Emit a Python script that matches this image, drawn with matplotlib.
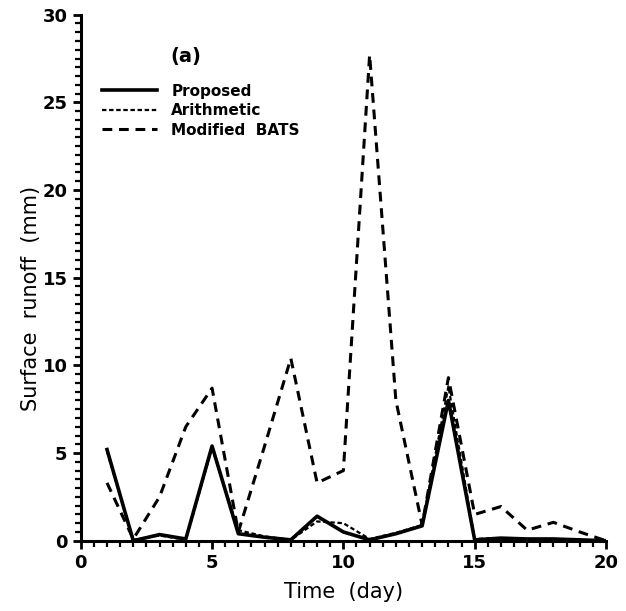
import matplotlib
matplotlib.use('Agg')
import matplotlib.pyplot as plt
from matplotlib.ticker import MultipleLocator

days = list(range(1, 21))
proposed = [5.2, 0.0, 0.35, 0.1, 5.4, 0.4, 0.2, 0.05, 1.4, 0.5,
            0.05, 0.4, 0.85, 8.0, 0.05, 0.15, 0.1, 0.1, 0.05, 0.0]
arithmetic = [5.1, 0.05, 0.3, 0.05, 5.3, 0.6, 0.25, 0.05, 1.1, 1.0,
              0.1, 0.45, 0.9, 8.8, 0.1, 0.15, 0.1, 0.1, 0.05, 0.0]
modified_bats = [3.3, 0.1, 2.5, 6.5, 8.7, 0.5, 5.4, 10.4, 3.3, 4.0,
                 27.7, 8.0, 0.9, 9.3, 1.5, 1.95, 0.6, 1.05, 0.5, 0.0]

plt.rcParams['font.family'] = ['DejaVu Sans']

fig = plt.figure(figsize=(6.26, 6.11), dpi=100)
ax = fig.add_axes([0.129, 0.115, 0.839, 0.861])

ax.plot(days, proposed, color='black', lw=2.6, label='Proposed')
ax.plot(days, arithmetic, color='black', lw=1.6, linestyle=(0, (2, 1.2)), label='Arithmetic')
ax.plot(days, modified_bats, color='black', lw=2.2, linestyle=(0, (3.2, 2.2)), label='Modified  BATS')

ax.set_xlim(0, 20)
ax.set_ylim(0, 30)
ax.xaxis.set_major_locator(MultipleLocator(5))
ax.xaxis.set_minor_locator(MultipleLocator(0.5))
ax.yaxis.set_major_locator(MultipleLocator(5))
ax.yaxis.set_minor_locator(MultipleLocator(0.5))

for side in ['top', 'right']:
    ax.spines[side].set_visible(False)
for side in ['left', 'bottom']:
    ax.spines[side].set_linewidth(2.2)

ax.tick_params(which='major', direction='out', length=6, width=2, labelsize=13)
ax.tick_params(which='minor', direction='out', length=4, width=1.6)
for lab in ax.get_xticklabels() + ax.get_yticklabels():
    lab.set_fontweight('bold')

ax.set_xlabel('Time  (day)', fontsize=15, labelpad=7)
ax.set_ylabel('Surface  runoff  (mm)', fontsize=15, labelpad=6)
ax.yaxis.set_label_coords(-0.075, 0.46)

ax.text(0.17, 0.91, '(a)', transform=ax.transAxes, fontsize=14, fontweight='bold')
leg = ax.legend(loc='upper left', bbox_to_anchor=(0.015, 0.895), frameon=False,
                handlelength=3.6, handletextpad=0.9, labelspacing=0.3,
                prop={'size': 11, 'weight': 'bold'})

plt.savefig('out.png', dpi=100)
